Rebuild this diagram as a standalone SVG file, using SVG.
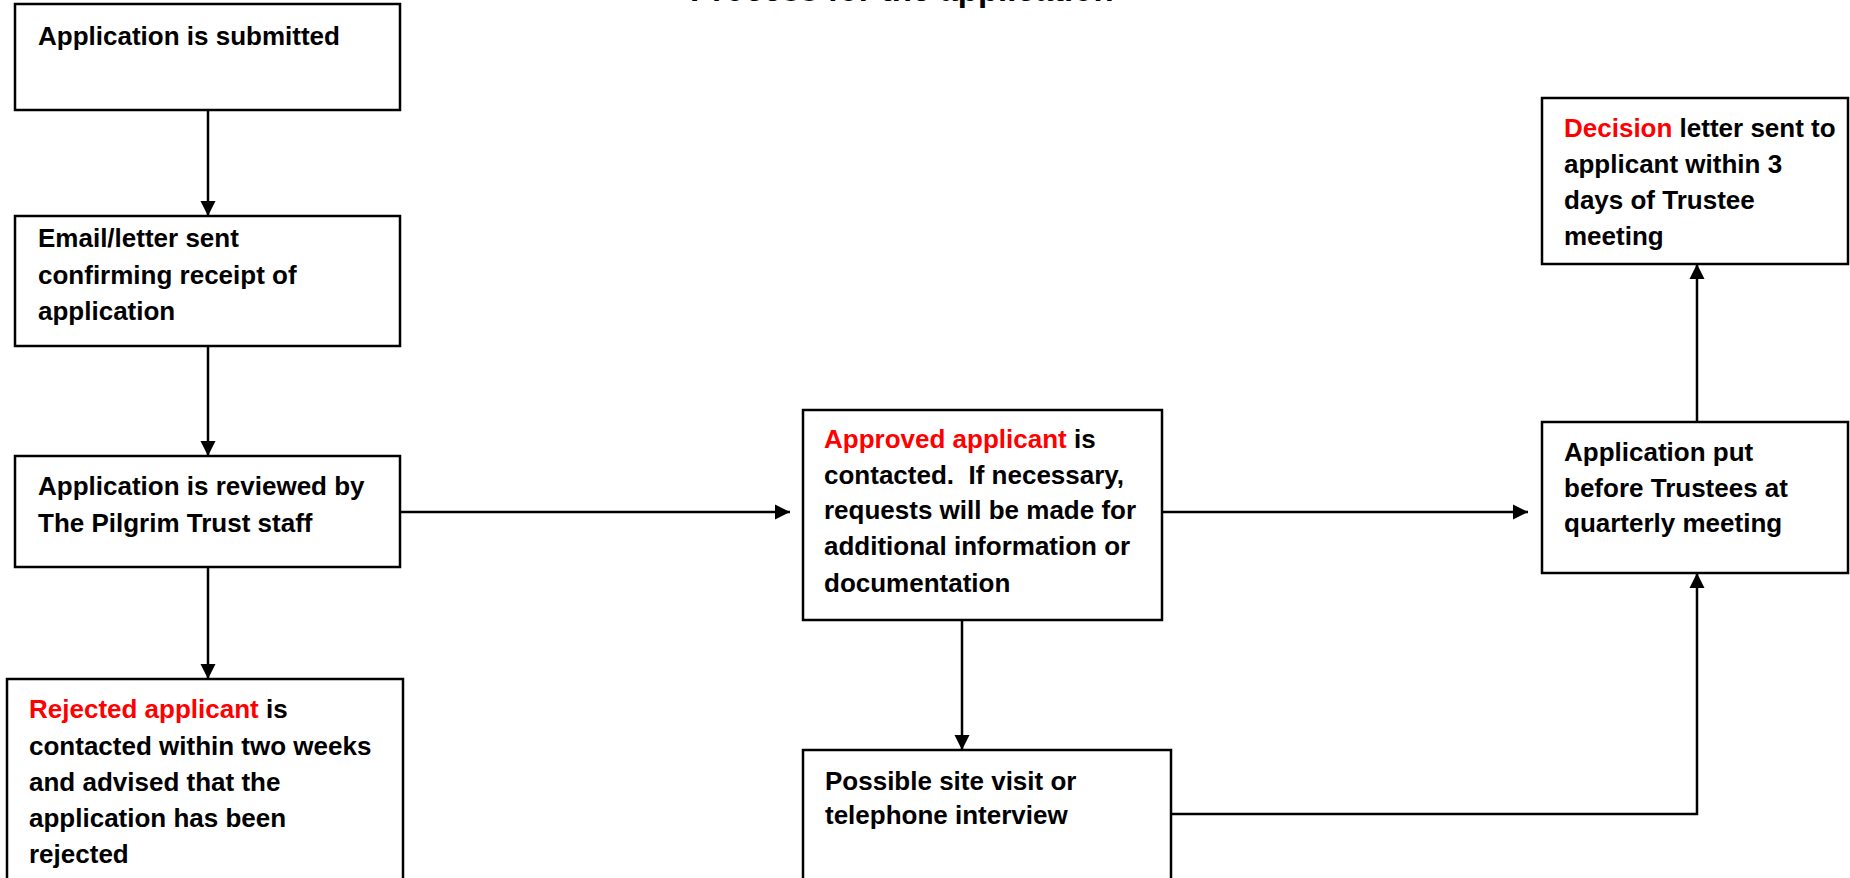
<svg xmlns="http://www.w3.org/2000/svg" width="1850" height="878" viewBox="0 0 1850 878">
<style>
  .box { fill: #ffffff; stroke: #000000; stroke-width: 2.5; }
  .t { font-family: "Liberation Sans", Arial, sans-serif; font-weight: bold; font-size: 26px; fill: #000000; white-space: pre; }
  .red { fill: #ff0000; }
  .title { font-family: "Liberation Sans", Arial, sans-serif; font-weight: bold; font-size: 33px; fill: #000000; }
  .conn { fill: none; stroke: #000000; stroke-width: 2.5; }
</style>
<defs>
  <marker id="arrow" markerUnits="userSpaceOnUse" markerWidth="16" markerHeight="16" viewBox="0 0 16 16" refX="15" refY="8" orient="auto">
    <path d="M0,0.5 L15,8 L0,15.5 Z" fill="#000000"/>
  </marker>
</defs>
<rect width="1850" height="878" fill="#ffffff"/>
<text class="title" x="690" y="0.6">Process for the application</text>

<g id="connectors">
  <line class="conn" x1="208" y1="110" x2="208" y2="216" marker-end="url(#arrow)"/>
  <line class="conn" x1="208" y1="346" x2="208" y2="456" marker-end="url(#arrow)"/>
  <line class="conn" x1="208" y1="567" x2="208" y2="679" marker-end="url(#arrow)"/>
  <line class="conn" x1="400" y1="512" x2="790" y2="512" marker-end="url(#arrow)"/>
  <line class="conn" x1="1162" y1="512" x2="1528" y2="512" marker-end="url(#arrow)"/>
  <line class="conn" x1="962" y1="620" x2="962" y2="750" marker-end="url(#arrow)"/>
  <polyline class="conn" points="1171,814 1697,814 1697,573" marker-end="url(#arrow)"/>
  <line class="conn" x1="1697" y1="422" x2="1697" y2="264" marker-end="url(#arrow)"/>
</g>

<g id="submitted">
  <rect class="box" x="15" y="4" width="385" height="106"/>
  <text class="t" x="38" y="45">Application is submitted</text>
</g>

<g id="confirm">
  <rect class="box" x="15" y="216" width="385" height="130"/>
  <text class="t" x="38" y="247">Email/letter sent</text>
  <text class="t" x="38" y="284">confirming receipt of</text>
  <text class="t" x="38" y="320">application</text>
</g>

<g id="reviewed">
  <rect class="box" x="15" y="456" width="385" height="111"/>
  <text class="t" x="38" y="495">Application is reviewed by</text>
  <text class="t" x="38" y="532">The Pilgrim Trust staff</text>
</g>

<g id="rejected">
  <rect class="box" x="7" y="679" width="396" height="210"/>
  <text class="t" x="29" y="718"><tspan class="red">Rejected applicant</tspan> is</text>
  <text class="t" x="29" y="755">contacted within two weeks</text>
  <text class="t" x="29" y="791">and advised that the</text>
  <text class="t" x="29" y="827">application has been</text>
  <text class="t" x="29" y="863">rejected</text>
</g>

<g id="approved">
  <rect class="box" x="803" y="410" width="359" height="210"/>
  <text class="t" x="824" y="448"><tspan class="red">Approved applicant</tspan> is</text>
  <text class="t" x="824" y="484">contacted.  If necessary,</text>
  <text class="t" x="824" y="519">requests will be made for</text>
  <text class="t" x="824" y="555">additional information or</text>
  <text class="t" x="824" y="592">documentation</text>
</g>

<g id="sitevisit">
  <rect class="box" x="803" y="750" width="368" height="140"/>
  <text class="t" x="825" y="790">Possible site visit or</text>
  <text class="t" x="825" y="824">telephone interview</text>
</g>

<g id="trustees">
  <rect class="box" x="1542" y="422" width="306" height="151"/>
  <text class="t" x="1564" y="461">Application put</text>
  <text class="t" x="1564" y="497">before Trustees at</text>
  <text class="t" x="1564" y="532">quarterly meeting</text>
</g>

<g id="decision">
  <rect class="box" x="1542" y="98" width="306" height="166"/>
  <text class="t" x="1564" y="137"><tspan class="red">Decision</tspan> letter sent to</text>
  <text class="t" x="1564" y="173">applicant within 3</text>
  <text class="t" x="1564" y="209">days of Trustee</text>
  <text class="t" x="1564" y="245">meeting</text>
</g>
</svg>
